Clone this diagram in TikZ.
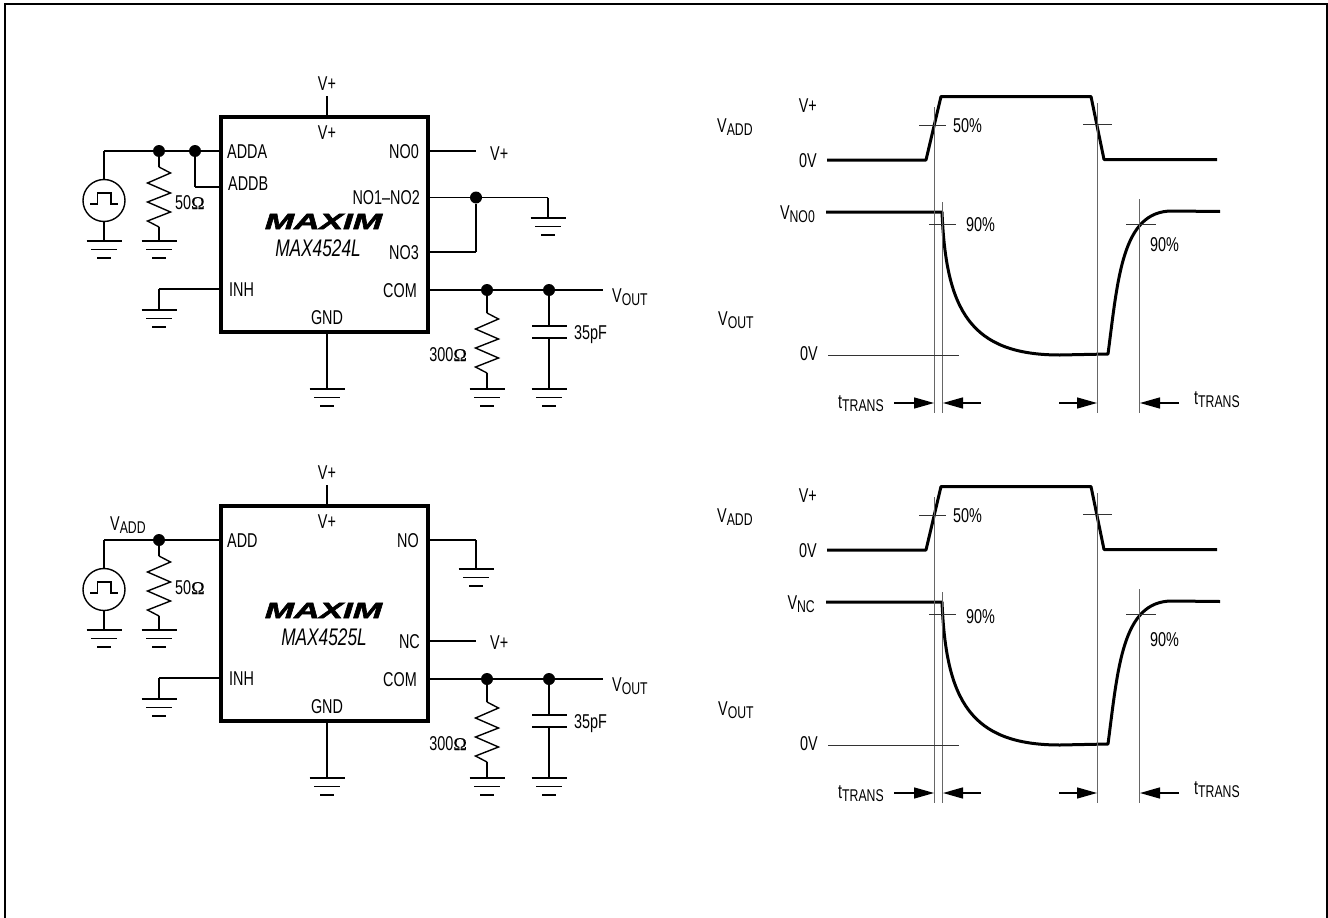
\documentclass[tikz,border=0pt]{standalone}
\usepackage{fontspec}
\setmainfont[FakeStretch=0.72]{Liberation Sans}
\newfontfamily\ohmfont[FakeBold=0.4]{Liberation Serif}
\newfontfamily\logofont[FakeStretch=1.6,FakeBold=3]{Liberation Sans}
\usetikzlibrary{arrows.meta}

\newcommand{\lowtxt}[1]{\raisebox{-3.5pt}{\fontsize{17}{17}\selectfont #1}}
\newcommand{\ohm}{{\ohmfont\fontsize{18}{18}\selectfont Ω}}

\tikzstyle{pinlabel} = [font=\fontsize{20}{20}\selectfont,inner sep=0pt,text height=14pt,text depth=0pt]
\tikzstyle{wire} = [draw,line width=1.4pt,-]
\tikzstyle{groundbar} = [draw,line width=1.5pt,-]
\tikzstyle{dotjoin} = [circle,fill=black,minimum size=12pt,inner sep=0pt]
\tikzstyle{chipbox} = [draw,line width=4pt,minimum width=207pt,minimum height=215pt,inner sep=0pt]
\tikzstyle{sourcering} = [circle,draw,line width=1.4pt,minimum size=42pt,inner sep=0pt]
\tikzstyle{trace} = [draw,line width=3pt,line join=round]
\tikzstyle{guide} = [draw,line width=1pt,black!60]
\tikzstyle{marktick} = [draw,line width=1pt,black!80]
\tikzstyle{timearrow} = [draw,line width=1.4pt,-{Triangle[length=20pt,width=11pt]}]

\tikzset{
  gnd/.pic={
    \path[groundbar] (-17.5,0) -- (17.5,0);
    \path[groundbar] (-13,8.5) -- (13,8.5);
    \path[groundbar] (-7,17) -- (7,17);
  },
  zigzagres/.pic={
    \path[wire] (0,0) -- (11.5,6) -- (-11.5,16) -- (11.5,26) -- (-11.5,35) -- (11.5,45) -- (-11.5,54) -- (0,60);
  }
}

\begin{document}
\begin{tikzpicture}[x=1pt,y=-1pt]
      \useasboundingbox (0,0) rectangle (1328,918);
      \path[draw,line width=2pt] (5,918) -- (5,4) -- (1327,4) -- (1327,918);

      %both circuits
      \foreach \pre/\dy/\partno/\partx/\ry in {
        top/0/MAX4524L/318/202,
        bot/389/MAX4525L/324/198}
      {
      \begin{scope}[shift={(0,\dy)},name prefix=\pre-]
        \node[chipbox] (chip) at (324.5,224.5) {};
        \node[pinlabel,font=\logofont\bfseries\itshape\fontsize{22}{22}\selectfont] (logo) at (323.5,222) {MAXIM};
        \node[pinlabel,font=\itshape\fontsize{24}{24}\selectfont,text height=17pt] (part) at (\partx,248) {\partno};
        \node[sourcering] (source) at (104,200.5) {};
        \path[wire] (90,204) -- (97.5,204) -- (97.5,193) -- (111,193) -- (111,204) -- (118,204);
        \foreach \dotname/\x/\y in {radd/159/151, rcom/487/290, ccom/549/290}
        {
          \node[dotjoin] (\dotname) at (\x,\y) {};
        };
        \foreach \nodename/\x/\y/\anchorside/\txt in {
          vtop/327/83/center/V+,
          vin/327/132/center/V+,
          gndname/327/317/center/GND,
          inhname/229/289/west/INH,
          comname/417/290/east/COM,
          vout/612/295/west/V\lowtxt{OUT},
          capval/574/332/west/35pF,
          rload/467/354/east/300\ohm,
          rsrc/175/\ry/west/50\ohm}
        {
          \node[pinlabel,anchor=\anchorside] (\nodename) at (\x,\y) {\txt};
        };
        %free ends and pins
        \foreach \pinname/\x/\y in {
          stub/327/96, gtop/327/117, gbot/327/332, gndpin/327/389,
          inhpin/221/289, inhbend/159/289, inhgnd/159/310,
          srcwire/104/151, srcgnd/104/241, resup/159/167, resdown/159/227, resgnd/159/241,
          compin/428/290, outend/603/290, loadup/487/313, loaddown/487/373, loadgnd/487/389,
          capa/549/326, capb/549/338, capgnd/549/389,
          capal/532/326, capar/567/326, capbl/532/338, capbr/567/338}
        {
          \coordinate (\pinname) at (\x,\y);
        };
        %edges
        \foreach \startnode/\endnode in {
          stub/gtop, gbot/gndpin, inhpin/inhbend, inhbend/inhgnd,
          srcwire/source.north, source.south/srcgnd, radd/resup, resdown/resgnd,
          compin/outend, rcom/loadup, loaddown/loadgnd,
          ccom/capa, capb/capgnd, capal/capar, capbl/capbr}
        {
          \path[wire] (\startnode) -- (\endnode);
        };
        \path[wire] (srcwire) -- (radd);
        \pic at (resup) {zigzagres};
        \pic at (loadup) {zigzagres};
        \foreach \gndname in {srcgnd, resgnd, inhgnd, gndpin, loadgnd, capgnd}
        {
          \pic at (\gndname) {gnd};
        };
      \end{scope}
      };

      %upper circuit, own pins
      \node[dotjoin] (adddot) at (195,151) {};
      \node[dotjoin] (nodot) at (476,197.5) {};
      \foreach \nodename/\x/\y/\anchorside/\txt in {
        adda/227/151/west/ADDA,
        addb/228/183/west/ADDB,
        noa/419/151/east/NO0,
        nob/420/197/east/NO1–NO2,
        noc/419/252/east/NO3,
        nov/490/153/west/V+}
      {
        \node[pinlabel,anchor=\anchorside] (\nodename) at (\x,\y) {\txt};
      };
      \foreach \pinname/\x/\y in {
        addapin/221/151, addbpin/221/187, addbbend/195/187,
        noapin/428/151, noaend/476/151, nobpin/428/197.5, nobbend/548/197.5, nobgnd/548/218,
        nocpin/428/252, nocbend/476/252}
      {
        \coordinate (\pinname) at (\x,\y);
      };
      \foreach \startnode/\endnode in {
        top-radd/addapin, adddot/addbbend, addbbend/addbpin,
        noapin/noaend, nobpin/nobbend, nobbend/nobgnd, nocpin/nocbend, nocbend/nodot}
      {
        \path[wire] (\startnode) -- (\endnode);
      };
      \pic at (nobgnd) {gnd};

      %lower circuit, own pins
      \foreach \nodename/\x/\y/\anchorside/\txt in {
        add/227/540/west/ADD,
        vadd/110/523/west/V\lowtxt{ADD},
        nop/419/540/east/NO,
        ncp/420/641/east/NC,
        ncv/490/642/west/V+}
      {
        \node[pinlabel,anchor=\anchorside] (\nodename) at (\x,\y) {\txt};
      };
      \foreach \pinname/\x/\y in {
        addpin/221/540,
        nopin/428/540, nobend/476/540, nognd/476/569,
        ncpin/428/641, ncend/476/641}
      {
        \coordinate (\pinname) at (\x,\y);
      };
      \foreach \startnode/\endnode in {
        bot-radd/addpin, nopin/nobend, nobend/nognd, ncpin/ncend}
      {
        \path[wire] (\startnode) -- (\endnode);
      };
      \pic at (nognd) {gnd};

      %timing
      \foreach \pre/\dy/\vname/\lefty/\righty in {
        wa/0/\lowtxt{NO0}/224/244,
        wb/390/\lowtxt{NC}/226/249}
      {
      \begin{scope}[shift={(0,\dy)},name prefix=\pre-]
        \path[trace] (827,160) -- (926,160) -- (941,96.5) -- (1091,96.5) -- (1104,159.5) -- (1217,159.5);
        \path[trace] (826,212) -- (941,212) -- (942,212)
          .. controls (946,310) and (970,355) .. (1060,355) -- (1108,354)
          .. controls (1118,278) and (1122,211) .. (1172,211) -- (1220,211.5);
        \foreach \nodename/\x/\y/\anchorside/\txt in {
          plus/817/105/east/V+,
          vaddw/717/125/west/V\lowtxt{ADD},
          zeroa/817/160/east/0V,
          vsig/815/212/east/V\vname,
          voutw/718/318/west/V\lowtxt{OUT},
          zerob/818/353/east/0V,
          half/953/125/west/50\%,
          nineleft/966/\lefty/west/90\%,
          nineright/1150/\righty/west/90\%,
          ttl/838/401/west/t\lowtxt{TRANS},
          ttr/1194/397/west/t\lowtxt{TRANS}}
        {
          \node[pinlabel,anchor=\anchorside] (\nodename) at (\x,\y) {\txt};
        };
        \foreach \n/\xa/\ya/\xb/\yb/\kind in {
          ga/934/107/934/413/guide, gb/942/202/942/413/guide,
          gc/1097/103/1097/413/guide, gd/1139/199/1139/413/guide,
          ta/919/125/946/125/marktick, tb/1083/124/1112/124/marktick,
          tc/929/224/956/224/marktick, td/1126/224/1156/224/marktick,
          ze/828/355/959/355/marktick,
          aa/894/403/934/403/timearrow, ab/981/403/943/403/timearrow,
          ac/1059/403/1097/403/timearrow, ad/1179/403/1140/403/timearrow}
        {
          \coordinate (\n s) at (\xa,\ya);
          \coordinate (\n e) at (\xb,\yb);
          \path[\kind] (\n s) -- (\n e);
        };
      \end{scope}
      };
    \end{tikzpicture}
\end{document}
